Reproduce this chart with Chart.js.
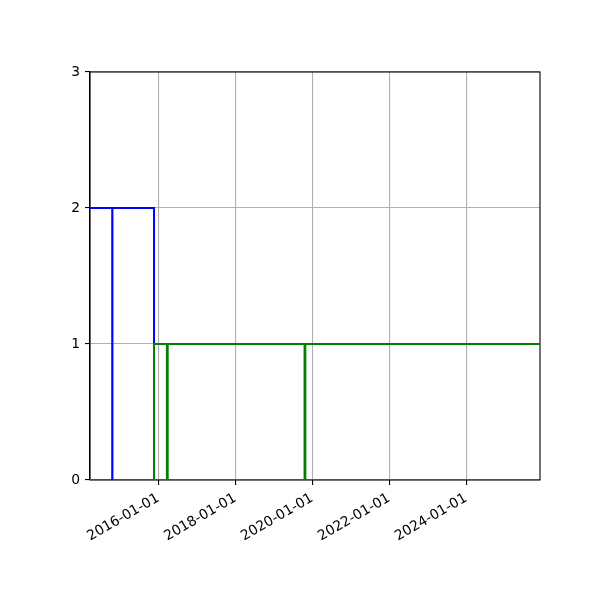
<!DOCTYPE html>
<html>
<head>
<meta charset="utf-8">
<script src="https://cdn.jsdelivr.net/npm/chart.js@4"></script>
<style>
  html, body { margin: 0; padding: 0; background: #fff; }
  #wrap { width: 600px; height: 600px; }
</style>
</head>
<body>
<div id="wrap"><canvas id="c" width="600" height="600"></canvas></div>
<script>
// ---- data (dates as ISO strings) ----
const xRange = ["2014-03-23", "2025-12-03"];
const tickDates = ["2016-01-01", "2018-01-01", "2020-01-01", "2022-01-01", "2024-01-01"];
const yTicks = [0, 1, 2, 3];

const blueStepDates = ["2014-03-23", "2015-11-21", "2015-11-21", "2025-12-03"];
const blueStepValues = [2, 2, 1, 1];

const greenStepDates = ["2014-03-23", "2015-11-21", "2015-11-21", "2025-12-03"];
const greenStepValues = [0, 0, 1, 1];

const blueEventDates = ["2014-10-21"];
const blueEventValues = [2];

const greenEventDates = ["2016-03-26", "2019-10-24"];
const greenEventValues = [1, 1];

// ---- helpers ----
const t = s => Date.parse(s + "T00:00:00Z");
const pad = n => String(n).padStart(2, "0");
const fmt = v => { const d = new Date(v); return d.getUTCFullYear() + "-" + pad(d.getUTCMonth() + 1) + "-" + pad(d.getUTCDate()); };

function seriesPoints(dates, values) {
  return dates.map((d, i) => ({ x: t(d), y: values[i] }));
}
function eventSets(dates, values, color, width, order) {
  return dates.map((d, i) => ({
    data: [{ x: t(d), y: 0 }, { x: t(d), y: values[i] }],
    borderColor: color, borderWidth: width, pointRadius: 0, fill: false, tension: 0, order
  }));
}

// lower "order" is drawn on top
const datasets = [
  { data: seriesPoints(blueStepDates, blueStepValues), borderColor: "#0000ff", borderWidth: 2, pointRadius: 0, fill: false, tension: 0, order: 5 },
  { data: seriesPoints(greenStepDates, greenStepValues), borderColor: "#008000", borderWidth: 2, pointRadius: 0, fill: false, tension: 0, order: 4 },
  ...eventSets(blueEventDates, blueEventValues, "#0000ff", 2.2, 2),
  ...eventSets(greenEventDates, greenEventValues, "#008000", 2.8, 1)
];

// axes frame drawn beneath the data lines (as in the reference)
const frame = {
  id: "frame",
  beforeDatasetsDraw(chart) {
    const { ctx, chartArea: a } = chart;
    ctx.save();
    ctx.strokeStyle = "#000";
    ctx.lineWidth = 1.1;
    ctx.strokeRect(a.left, a.top, a.right - a.left, a.bottom - a.top);
    ctx.restore();
  }
};

new Chart(document.getElementById("c"), {
  type: "line",
  data: { datasets },
  options: {
    responsive: false,
    animation: false,
    devicePixelRatio: 1,
    layout: { padding: { top: 72, right: 60, left: 0, bottom: 0 } },
    plugins: { legend: { display: false }, tooltip: { enabled: false } },
    scales: {
      x: {
        type: "linear",
        min: t(xRange[0]),
        max: t(xRange[1]),
        afterBuildTicks: s => { s.ticks = tickDates.map(d => ({ value: t(d) })); },
        afterFit: s => { s.height = 120; s.paddingLeft = 0; s.paddingRight = 0; },
        ticks: {
          callback: v => fmt(v),
          minRotation: 30, maxRotation: 30,
          color: "#000",
          font: { family: "DejaVu Sans", size: 13.9 },
          padding: 5, autoSkip: false
        },
        grid: { color: "#b0b0b0", lineWidth: 1.1, tickColor: "#000", tickLength: 5, drawTicks: true },
        border: { color: "#000", width: 1.1, z: -1 }
      },
      y: {
        type: "linear",
        min: 0, max: 3,
        afterBuildTicks: s => { s.ticks = yTicks.map(v => ({ value: v })); },
        afterFit: s => { s.width = 90; s.paddingTop = 0; s.paddingBottom = 0; },
        ticks: {
          callback: v => String(v),
          color: "#000",
          font: { family: "DejaVu Sans", size: 13.9 },
          padding: 5
        },
        grid: { color: "#b0b0b0", lineWidth: 1.1, tickColor: "#000", tickLength: 5 },
        border: { color: "#000", width: 1.1 }
      }
    }
  },
  plugins: [frame]
});
</script>
</body>
</html>
